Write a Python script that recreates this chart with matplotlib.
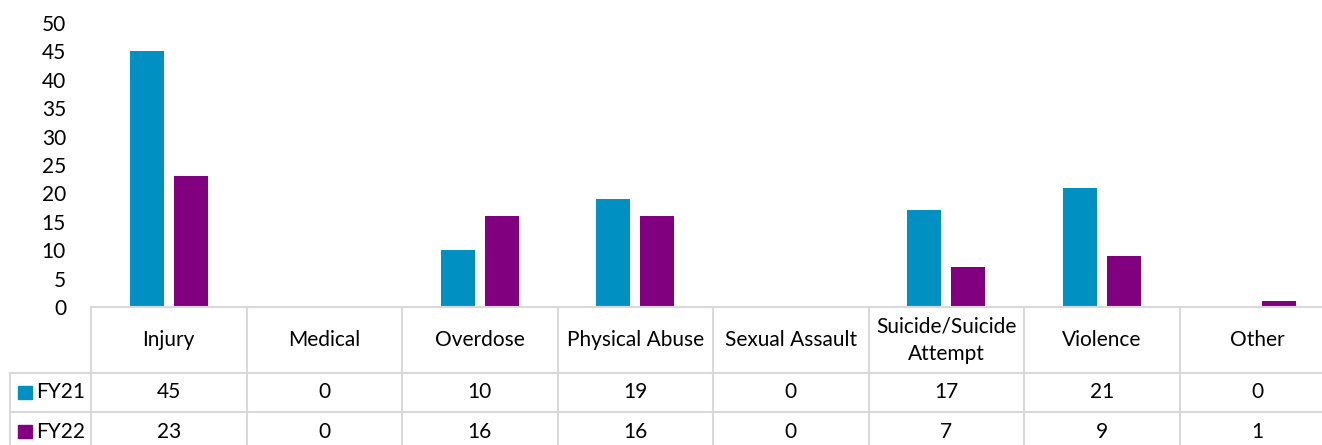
import numpy as np
import matplotlib.pyplot as plt
from matplotlib.patches import Rectangle

#data
categories = ['Injury', 'Medical', 'Overdose', 'Physical Abuse', 'Sexual Assault',
              'Suicide/Suicide\nAttempt', 'Violence', 'Other']
fy21 = [45, 0, 10, 19, 0, 17, 21, 0]
fy22 = [23, 0, 16, 16, 0, 7, 9, 1]
series = ['FY21', 'FY22']
colors = ['#0091c2', '#800080']
yticks = [0, 5, 10, 15, 20, 25, 30, 35, 40, 45, 50]

plt.rcParams['font.family'] = ['Lato', 'DejaVu Sans']
W, H = 1322, 445
fs = 15
grid = '#d9d9d9'

fig = plt.figure(figsize=(W/100, H/100), dpi=100)

#bar area (pixel geometry of the reference)
left, right, base, top = 91, 1335, 307, 23
ax = fig.add_axes([left/W, (H-base)/H, (right-left)/W, (base-top)/H])
x = np.arange(len(categories)) + 0.5
w = 0.219
ax.bar(x - 0.142, fy21, w, color=colors[0])
ax.bar(x + 0.142, fy22, w, color=colors[1])
ax.set_xlim(0, len(categories))
ax.set_ylim(0, 50)
ax.set_yticks(yticks)
ax.set_yticklabels([str(t) for t in yticks], fontsize=fs)
ax.tick_params(axis='y', length=0, pad=18)
ax.set_xticks([])
for s in ax.spines.values():
    s.set_visible(False)

#data table below the bars
col = (right-left)/len(categories)
leg = -(left-10)/col
tb = fig.add_axes([10/W, (H-460)/H, (right-10)/W, 153/H])
tb.set_xlim(leg, len(categories))
tb.set_ylim(153, 0)
tb.axis('off')
lw = 1.5
n = len(categories)
tb.plot([0, n], [0, 0], color=grid, lw=lw, clip_on=False)
for yy in [66, 105, 144]:
    tb.plot([leg, n], [yy, yy], color=grid, lw=lw, clip_on=False)
for i in range(n+1):
    tb.plot([i, i], [0, 153], color=grid, lw=lw, clip_on=False)
tb.plot([leg, leg], [66, 153], color=grid, lw=lw, clip_on=False)

for i, c in enumerate(categories):
    tb.text(i+0.5, 33, c, ha='center', va='center', fontsize=fs, linespacing=1.45)
    tb.text(i+0.5, 85.5, str(fy21[i]), ha='center', va='center', fontsize=fs)
    tb.text(i+0.5, 124.5, str(fy22[i]), ha='center', va='center', fontsize=fs)

for j, (name, c) in enumerate(zip(series, colors)):
    yc = 85.5 + 39*j
    tb.add_patch(Rectangle((-0.469, yc-6.5), 14/col, 13, color=c))
    tb.text(-0.35, yc, name, ha='left', va='center', fontsize=fs)

fig.savefig('out.png', dpi=100)
